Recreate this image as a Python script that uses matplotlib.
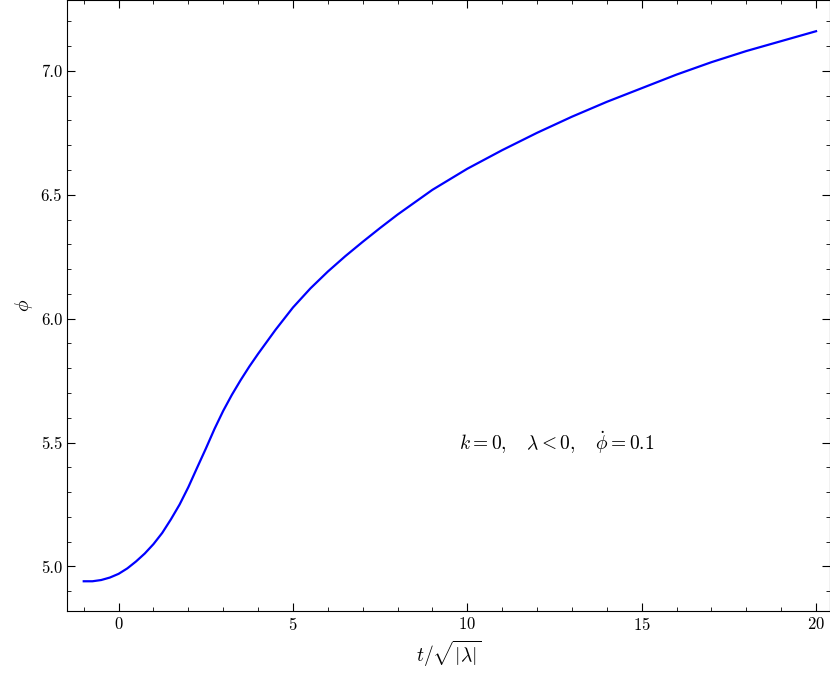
import matplotlib
matplotlib.use("Agg")
import matplotlib.pyplot as plt
from matplotlib.ticker import MultipleLocator

plt.rcParams['mathtext.fontset'] = 'cm'
plt.rcParams['font.family'] = 'serif'
plt.rcParams['font.serif'] = ['cmr10', 'DejaVu Serif']
plt.rcParams['axes.formatter.use_mathtext'] = True

t = [-1, -0.75, -0.5, -0.25, 0, 0.25, 0.5, 0.75, 1, 1.25, 1.5, 1.75, 2, 2.25, 2.5, 2.75, 3, 3.25, 3.5, 3.75,
     4, 4.5, 5, 5.5, 6, 6.5, 7, 7.5, 8, 9, 10, 11, 12, 13, 14, 15, 16, 17, 18, 19, 20]
phi = [4.94, 4.940, 4.945, 4.955, 4.970, 4.992, 5.020, 5.052, 5.090, 5.135, 5.190, 5.250, 5.320, 5.398, 5.475,
       5.555, 5.628, 5.693, 5.752, 5.807, 5.858, 5.955, 6.045, 6.122, 6.190, 6.252, 6.310, 6.366, 6.420, 6.520,
       6.605, 6.680, 6.750, 6.815, 6.875, 6.930, 6.985, 7.035, 7.080, 7.120, 7.160]

fig = plt.figure(figsize=(8.3, 6.85), dpi=100)
ax = fig.add_axes([67/830, 74/685, 763/830, 611/685])
ax.plot(t, phi, color='blue', lw=1.6)
ax.set_xlim(-1.48, 20.4)
ax.set_ylim(4.82, 7.286)
ax.xaxis.set_major_locator(MultipleLocator(5))
ax.xaxis.set_minor_locator(MultipleLocator(1))
ax.yaxis.set_major_locator(MultipleLocator(0.5))
ax.yaxis.set_minor_locator(MultipleLocator(0.1))
ax.yaxis.set_major_formatter(matplotlib.ticker.FormatStrFormatter('%.1f'))
ax.tick_params(which='both', direction='in', top=True, right=True, labelsize=12)
ax.tick_params(which='major', length=6)
ax.tick_params(which='minor', length=3)
ax.set_xlabel(r'$t/\sqrt{|\lambda|}$', fontsize=14)
ax.set_ylabel(r'$\phi$', fontsize=14)
ax.text(9.75, 5.5, r'$k=0,\quad \lambda<0,\quad \dot{\phi}=0.1$', fontsize=14, va='center')
fig.savefig('out.png', dpi=100)
